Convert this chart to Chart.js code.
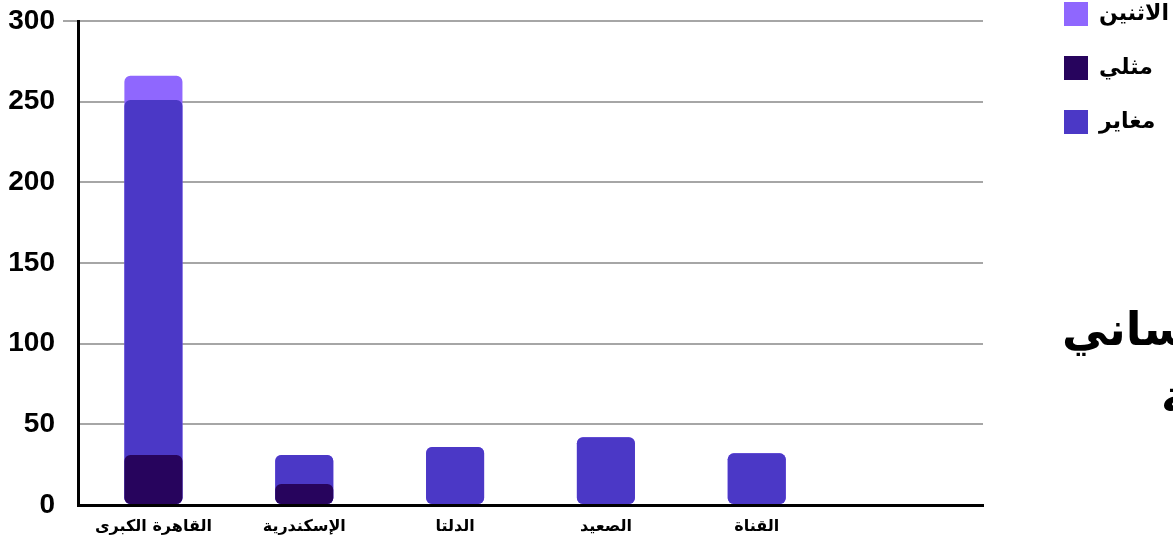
<!DOCTYPE html>
<html lang="ar">
<head>
<meta charset="utf-8">
<script src="https://cdn.jsdelivr.net/npm/chart.js@4.4.1/dist/chart.umd.min.js"></script>
<style>
  html, body { margin: 0; padding: 0; background: #fff; overflow: hidden; }
  #wrap { position: relative; width: 1173px; height: 548px; overflow: hidden; }
  #grafico { display: block; }
  .titulo { position: absolute; white-space: nowrap; direction: rtl; font-family: 'DejaVu Sans', sans-serif; font-size: 46px; font-weight: bold; color: #000; line-height: 1; }
</style>
</head>
<body>
<div id="wrap">
  <canvas id="grafico" width="1173" height="548"></canvas>
  <div class="titulo" style="left:1062px; top:306px;">التوجه الجنساني</div>
  <div class="titulo" style="left:1161px; top:373px;">حسب المنطقة</div>
</div>
<script>
// Dados por região
const regioes = ['القاهرة الكبرى', 'الإسكندرية', 'الدلتا', 'الصعيد', 'القناة', ''];
const mughayir = [220, 18, 36, 42, 32, null];
const mithli = [31, 13, 0, 0, 0, null];
const ithnayn = [15, 0, 0, 0, 0, null];
const limitesY = { min: 0, max: 300, passo: 50 };

// As barras se sobrepõem: cada série vai do zero até a soma acumulada
const ateMughayir = mughayir.map((v, i) => v == null ? null : v + mithli[i]);
const ateIthnayn = ithnayn.map((v, i) => v == null ? null : v + mughayir[i] + mithli[i]);

const cores = { ithnayn: '#8f67fe', mithli: '#27045d', mughayir: '#4b38c6' };
const fonteArabe = "'DejaVu Sans', sans-serif";

// Move a legenda para o canto superior direito
const posicionarLegenda = {
    id: 'posicionarLegenda',
    afterLayout(chart) {
        const lg = chart.legend;
        const w = lg.width, h = lg.height;
        lg.left = 1034; lg.right = lg.left + w;
        lg.top = -28; lg.bottom = lg.top + h;
    }
};

const barraBase = {
    borderWidth: 0,
    borderRadius: 6,
    borderSkipped: false,
    barPercentage: 0.385,
    categoryPercentage: 1,
    grouped: false,
};

new Chart(document.getElementById('grafico').getContext('2d'), {
    type: 'bar',
    data: {
        labels: regioes,
        datasets: [
            { ...barraBase, label: 'الاثنين', data: ateIthnayn, backgroundColor: cores.ithnayn, order: 3 },
            { ...barraBase, label: 'مثلي', data: mithli, backgroundColor: cores.mithli, order: 1 },
            { ...barraBase, label: 'مغاير', data: ateMughayir, backgroundColor: cores.mughayir, order: 2 },
        ],
    },
    options: {
        responsive: false,
        animation: false,
        devicePixelRatio: 1,
        layout: { padding: { top: 21, right: 190, bottom: 0, left: 0 } },
        plugins: {
            tooltip: { enabled: false },
            legend: {
                position: 'chartArea',
                align: 'start',
                labels: {
                    boxWidth: 24,
                    boxHeight: 24,
                    padding: 30,
                    color: '#000',
                    font: { family: fonteArabe, size: 22, weight: 'bold' },
                    sort: (a, b) => a.datasetIndex - b.datasetIndex,
                },
            },
        },
        scales: {
            x: {
                grid: { display: false, drawTicks: false },
                border: { color: '#000', width: 3 },
                ticks: {
                    padding: 12,
                    color: '#000',
                    font: { family: fonteArabe, size: 16, weight: 'bold' },
                },
                afterFit: (s) => { s.height = 43; },
            },
            y: {
                min: limitesY.min,
                max: limitesY.max,
                grid: {
                    color: '#a6a6a6',
                    lineWidth: 2,
                    tickLength: 15,
                    tickColor: (ctx) => ctx.tick && ctx.tick.value === limitesY.max ? '#a6a6a6' : 'rgba(0,0,0,0)',
                },
                border: { color: '#000', width: 3 },
                ticks: {
                    stepSize: limitesY.passo,
                    padding: 8,
                    color: '#000',
                    font: { family: "'Liberation Sans', Arial, sans-serif", size: 28, weight: 'bold' },
                },
                afterFit: (s) => { s.width = 78; s.paddingTop = 0; s.paddingBottom = 0; },
            },
        },
    },
    plugins: [posicionarLegenda],
});
</script>
</body>
</html>
